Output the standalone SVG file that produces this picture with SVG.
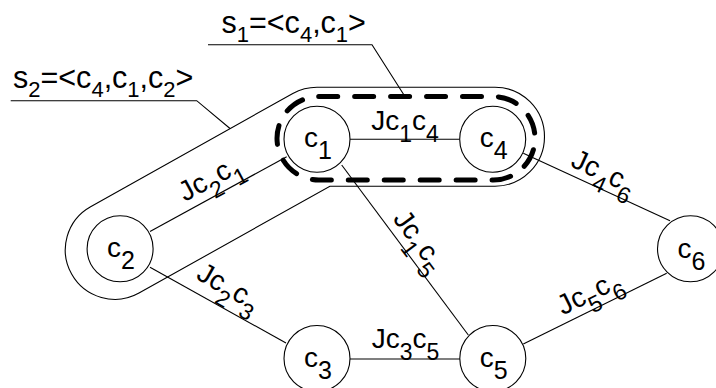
<svg xmlns="http://www.w3.org/2000/svg" width="716" height="388" viewBox="0 0 716 388">
  <style>
    .ln { fill: none; stroke: #000; stroke-width: 1.1; }
    .node { fill: #fff; stroke: #000; stroke-width: 1.1; }
    .dash { fill: none; stroke: #000; stroke-width: 5; stroke-linecap: round; stroke-dasharray: 19 16.95; }
    text { font-family: "Liberation Sans", Arial, sans-serif; fill: #000; }
    .nl { font-size: 28px; text-anchor: middle; }
    .nl .sub { font-size: 25px; }
    .el { font-size: 28px; text-anchor: middle; }
    .el .sub { font-size: 23px; }
    .sl { font-size: 30.5px; }
    .sl .sub { font-size: 22px; }
  </style>

  <!-- sequence outlines -->
  <g id="s2-outline">
    <path class="ln" d="M90.6,206.7 L292.8,93.5 A49.5,49.5 0 0 1 317,87.2 L495,87.2 A49.5,49.5 0 0 1 495,186.2 L329.9,186.2 L139,293.1 A49.5,49.5 0 0 1 90.6,206.7 Z"/>
  </g>
  <g id="s1-outline">
    <path class="dash" d="M318.7,96.6 H493.3 A41.7,41.7 0 0 1 493.3,180 H318.7 A41.7,41.7 0 0 1 318.7,96.6 Z"/>
  </g>

  <!-- sequence labels with leader lines -->
  <g id="s1-label">
    <polyline class="ln" points="208,44.7 372,44.7 404,95"/>
    <text class="sl" x="221.5" y="33.3">s<tspan class="sub" dy="8.5">1</tspan><tspan dy="-8.5">=&lt;c</tspan><tspan class="sub" dy="8.5">4</tspan><tspan dy="-8.5">,c</tspan><tspan class="sub" dy="8.5">1</tspan><tspan dy="-8.5">&gt;</tspan></text>
  </g>
  <g id="s2-label">
    <polyline class="ln" points="10.7,100.7 196.7,100.7 230,128.5"/>
    <text class="sl" x="13" y="88.3">s<tspan class="sub" dy="9">2</tspan><tspan dy="-9">=&lt;c</tspan><tspan class="sub" dy="9">4</tspan><tspan dy="-9">,c</tspan><tspan class="sub" dy="9">1</tspan><tspan dy="-9">,c</tspan><tspan class="sub" dy="9">2</tspan><tspan dy="-9">&gt;</tspan></text>
  </g>

  <!-- connectors and their weights -->
  <g id="connectors">
    <line class="ln" x1="350" y1="139.3" x2="459.7" y2="139.3"/>
    <line class="ln" x1="150" y1="231.5" x2="286.7" y2="156.7"/>
    <line class="ln" x1="150" y1="267.3" x2="286" y2="343"/>
    <line class="ln" x1="341.7" y1="165" x2="468.3" y2="335"/>
    <line class="ln" x1="350" y1="359" x2="460" y2="359"/>
    <line class="ln" x1="523.3" y1="344" x2="666.7" y2="273.3"/>
    <line class="ln" x1="523.3" y1="153.3" x2="670" y2="220.7"/>

    <text class="el" x="405" y="130">Jc<tspan class="sub" dy="11.7">1</tspan><tspan dy="-11.7">c</tspan><tspan class="sub" dy="11.7">4</tspan></text>
    <text class="el" x="405.5" y="348.3">Jc<tspan class="sub" dy="11.7">3</tspan><tspan dy="-11.7">c</tspan><tspan class="sub" dy="11.7">5</tspan></text>
    <text class="el" transform="translate(213,183) rotate(-28.3)" x="0" y="3.3">Jc<tspan class="sub" dy="11.7">2</tspan><tspan dy="-11.7">c</tspan><tspan class="sub" dy="11.7">1</tspan></text>
    <text class="el" transform="translate(226,292) rotate(29.3)" x="0" y="3.3">Jc<tspan class="sub" dy="11.7">2</tspan><tspan dy="-11.7">c</tspan><tspan class="sub" dy="11.7">3</tspan></text>
    <text class="el" transform="translate(415,244) rotate(53.3)" x="0" y="3.3">Jc<tspan class="sub" dy="11.7">1</tspan><tspan dy="-11.7">c</tspan><tspan class="sub" dy="11.7">5</tspan></text>
    <text class="el" transform="translate(591.7,297.5) rotate(-26.2)" x="0" y="3.3">Jc<tspan class="sub" dy="11.7">5</tspan><tspan dy="-11.7">c</tspan><tspan class="sub" dy="11.7">6</tspan></text>
    <text class="el" transform="translate(601.7,177.2) rotate(24.7)" x="0" y="3.3">Jc<tspan class="sub" dy="11.7">4</tspan><tspan dy="-11.7">c</tspan><tspan class="sub" dy="11.7">6</tspan></text>
  </g>

  <!-- nodes -->
  <g id="c1">
    <circle class="node" cx="317" cy="139.2" r="33"/>
    <text class="nl" x="318" y="147">c<tspan class="sub" dy="12">1</tspan></text>
  </g>
  <g id="c2">
    <circle class="node" cx="120.1" cy="248.8" r="33"/>
    <text class="nl" x="121" y="257">c<tspan class="sub" dy="12">2</tspan></text>
  </g>
  <g id="c3">
    <circle class="node" cx="317" cy="358.5" r="33"/>
    <text class="nl" x="318" y="366.5">c<tspan class="sub" dy="12">3</tspan></text>
  </g>
  <g id="c4">
    <circle class="node" cx="492.7" cy="139.2" r="33"/>
    <text class="nl" x="493.7" y="147">c<tspan class="sub" dy="12">4</tspan></text>
  </g>
  <g id="c5">
    <circle class="node" cx="492.8" cy="358.5" r="33"/>
    <text class="nl" x="493.8" y="366.5">c<tspan class="sub" dy="12">5</tspan></text>
  </g>
  <g id="c6">
    <circle class="node" cx="690.5" cy="248.8" r="33"/>
    <text class="nl" x="691.5" y="257.5">c<tspan class="sub" dy="12">6</tspan></text>
  </g>
</svg>
